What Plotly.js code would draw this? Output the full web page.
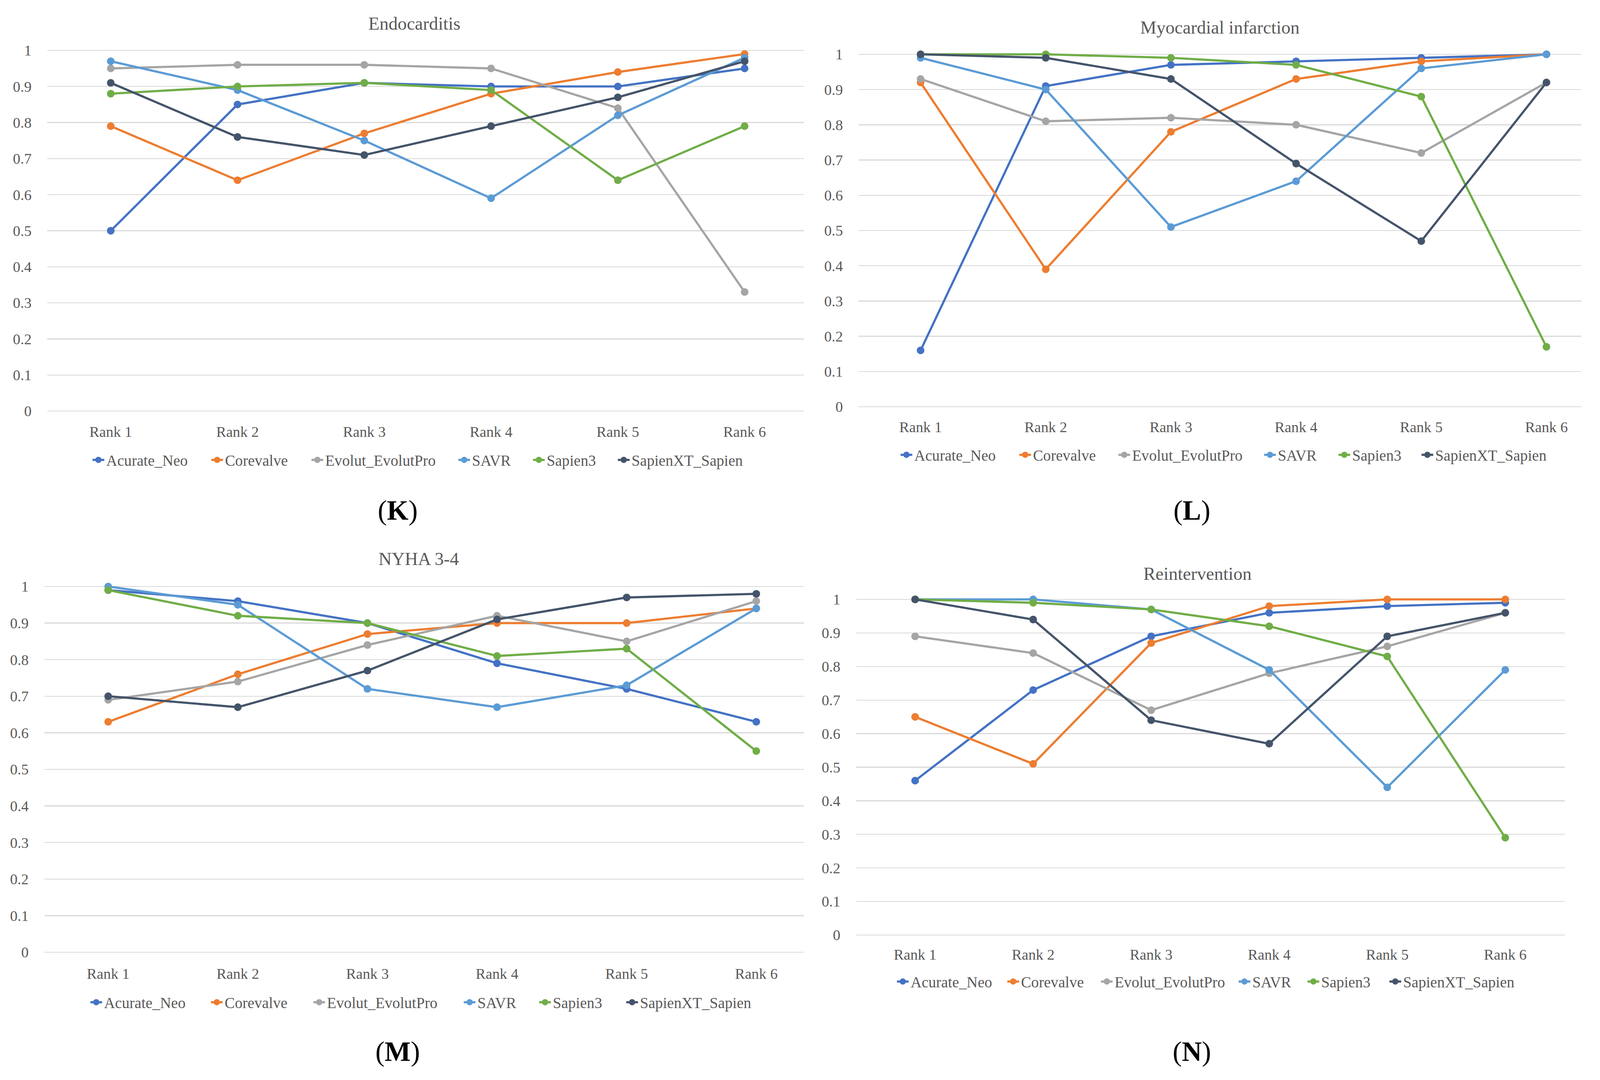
<!DOCTYPE html>
<html>
<head>
<meta charset="utf-8">
<script src="https://cdn.plot.ly/plotly-3.0.1.min.js"></script>
<style>
  html, body { margin: 0; padding: 0; background: #ffffff; overflow: hidden; }
  #chart { position: absolute; left: 0; top: 0; }
</style>
</head>
<body>
<div id="chart"></div>
<script>
// ---------------- DATA ----------------
const categories = ["Rank 1", "Rank 2", "Rank 3", "Rank 4", "Rank 5", "Rank 6"];
const seriesNames = ["Acurate_Neo", "Corevalve", "Evolut_EvolutPro", "SAVR", "Sapien3", "SapienXT_Sapien"];
const panelTitles = ["Endocarditis", "Myocardial infarction", "NYHA 3-4", "Reintervention"];
const panelLabels = ["K", "L", "M", "N"];
const yTickVals = [0, 0.1, 0.2, 0.3, 0.4, 0.5, 0.6, 0.7, 0.8, 0.9, 1];
const yTickText = ["0", "0.1", "0.2", "0.3", "0.4", "0.5", "0.6", "0.7", "0.8", "0.9", "1"];

// (K) Endocarditis
const endoAcurateNeo = [0.50, 0.85, 0.91, 0.90, 0.90, 0.95];
const endoCorevalve  = [0.79, 0.64, 0.77, 0.88, 0.94, 0.99];
const endoEvolut     = [0.95, 0.96, 0.96, 0.95, 0.84, 0.33];
const endoSAVR       = [0.97, 0.89, 0.75, 0.59, 0.82, 0.98];
const endoSapien3    = [0.88, 0.90, 0.91, 0.89, 0.64, 0.79];
const endoSapienXT   = [0.91, 0.76, 0.71, 0.79, 0.87, 0.97];

// (L) Myocardial infarction
const miAcurateNeo = [0.16, 0.91, 0.97, 0.98, 0.99, 1.00];
const miCorevalve  = [0.92, 0.39, 0.78, 0.93, 0.98, 1.00];
const miEvolut     = [0.93, 0.81, 0.82, 0.80, 0.72, 0.92];
const miSAVR       = [0.99, 0.90, 0.51, 0.64, 0.96, 1.00];
const miSapien3    = [1.00, 1.00, 0.99, 0.97, 0.88, 0.17];
const miSapienXT   = [1.00, 0.99, 0.93, 0.69, 0.47, 0.92];

// (M) NYHA 3-4
const nyhaAcurateNeo = [0.99, 0.96, 0.90, 0.79, 0.72, 0.63];
const nyhaCorevalve  = [0.63, 0.76, 0.87, 0.90, 0.90, 0.94];
const nyhaEvolut     = [0.69, 0.74, 0.84, 0.92, 0.85, 0.96];
const nyhaSAVR       = [1.00, 0.95, 0.72, 0.67, 0.73, 0.94];
const nyhaSapien3    = [0.99, 0.92, 0.90, 0.81, 0.83, 0.55];
const nyhaSapienXT   = [0.70, 0.67, 0.77, 0.91, 0.97, 0.98];

// (N) Reintervention
const reAcurateNeo = [0.46, 0.73, 0.89, 0.96, 0.98, 0.99];
const reCorevalve  = [0.65, 0.51, 0.87, 0.98, 1.00, 1.00];
const reEvolut     = [0.89, 0.84, 0.67, 0.78, 0.86, 0.96];
const reSAVR       = [1.00, 1.00, 0.97, 0.79, 0.44, 0.79];
const reSapien3    = [1.00, 0.99, 0.97, 0.92, 0.83, 0.29];
const reSapienXT   = [1.00, 0.94, 0.64, 0.57, 0.89, 0.96];

const panelData = [
  [endoAcurateNeo, endoCorevalve, endoEvolut, endoSAVR, endoSapien3, endoSapienXT],
  [miAcurateNeo, miCorevalve, miEvolut, miSAVR, miSapien3, miSapienXT],
  [nyhaAcurateNeo, nyhaCorevalve, nyhaEvolut, nyhaSAVR, nyhaSapien3, nyhaSapienXT],
  [reAcurateNeo, reCorevalve, reEvolut, reSAVR, reSapien3, reSapienXT]
];

// ---------------- STYLE / LAYOUT ----------------
const colors = ["#4472C4", "#ED7D31", "#A5A5A5", "#5B9BD5", "#70AD47", "#44546A"];
const W = 4392, H = 2764;
const vw = window.innerWidth || document.documentElement.clientWidth || W;
const vh = window.innerHeight || document.documentElement.clientHeight || H;
const Sx = vw / W, Sy = vh / H;
const S = Sx;
const FONT = "Liberation Serif, Times New Roman, serif";
const TXT = "#595959";
const px = x => x / W;
const py = y => 1 - y / H;

// reference-pixel geometry of each panel
const geom = [
  {left: 130,  right: 2207, c1: 304,  c6: 2044, y0: 1052, y1: 129,  title: [1138, 60],   label: [1092, 1307], legY: 1177, std: 19,
   leg: [268, 594, 869, 1272, 1477, 1710]},
  {left: 2357, right: 4340, c1: 2527, c6: 4245, y0: 1041, y1: 139,  title: [3349, 70],   label: [3272, 1307], legY: 1164, std: 18,
   leg: [2486, 2812, 3084, 3484, 3688, 3916]},
  {left: 122,  right: 2207, c1: 297,  c6: 2076, y0: 2437, y1: 1501, title: [1149, 1430], label: [1092, 2691], legY: 2565, std: 21,
   leg: [262, 593, 874, 1287, 1494, 1733]},
  {left: 2350, right: 4295, c1: 2512, c6: 4132, y0: 2393, y1: 1534, title: [3287, 1468], label: [3272, 2691], legY: 2512, std: 16,
   leg: [2476, 2779, 3036, 3414, 3603, 3828]}
];

const traces = [];
const layout = {
  width: vw, height: vh,
  margin: {l: 0, r: 0, t: 0, b: 0, pad: 0},
  paper_bgcolor: "#ffffff",
  plot_bgcolor: "#ffffff",
  font: {family: FONT, color: TXT, size: 41 * S},
  showlegend: true,
  annotations: []
};

const YMAX = 1.05;
const LEG_OFF = 18; // css px from legend left edge to symbol centre
geom.forEach((g, p) => {
  const n = p + 1;
  const xa = "xaxis" + (n === 1 ? "" : n);
  const ya = "yaxis" + (n === 1 ? "" : n);
  const xr = "x" + (n === 1 ? "" : n);
  const yr = "y" + (n === 1 ? "" : n);
  const sp = (g.c6 - g.c1) / 5;
  const xStart = -(g.c1 - g.left) / sp;
  const xEnd = 5 + (g.right - g.c6) / sp;
  const topPx = g.y1 - (YMAX - 1) * (g.y0 - g.y1);

  layout[xa] = {
    domain: [px(g.left), px(g.right)],
    anchor: yr,
    type: "category",
    categoryorder: "array",
    categoryarray: categories,
    range: [xStart, xEnd],
    showgrid: false,
    zeroline: false,
    showline: false,
    ticks: "outside",
    ticklen: g.std * Sy,
    tickcolor: "rgba(0,0,0,0)",
    tickfont: {family: FONT, size: 41 * S, color: TXT},
    fixedrange: true
  };
  layout[ya] = {
    domain: [py(g.y0), py(topPx)],
    anchor: xr,
    range: [0, YMAX],
    tickmode: "array",
    tickvals: yTickVals,
    ticktext: yTickText,
    showgrid: true,
    gridcolor: "#D9D9D9",
    gridwidth: 2.5 * S,
    zeroline: true,
    zerolinecolor: "#D9D9D9",
    zerolinewidth: 2.5 * S,
    showline: false,
    ticks: "outside",
    ticklen: 34 * Sx,
    tickcolor: "rgba(0,0,0,0)",
    tickfont: {family: FONT, size: 41 * S, color: TXT},
    fixedrange: true
  };

  layout.annotations.push({
    text: panelTitles[p], xref: "paper", yref: "paper",
    x: px(g.title[0]), y: py(g.title[1]), xanchor: "center", yanchor: "middle",
    showarrow: false, font: {family: FONT, size: 50 * S, color: TXT}
  });
  layout.annotations.push({
    text: "(<b>" + panelLabels[p] + "</b>)", xref: "paper", yref: "paper",
    x: px(g.label[0]), y: py(g.label[1]), xanchor: "center", yanchor: "middle",
    showarrow: false, font: {family: FONT, size: 76 * S, color: "#000000"}
  });

  panelData[p].forEach((vals, s) => {
    const li = p * 6 + s + 1;
    const lg = "legend" + (li === 1 ? "" : li);
    layout[lg] = {
      orientation: "h",
      x: px(g.leg[s]) - LEG_OFF / vw, y: py(g.legY),
      xanchor: "left", yanchor: "middle",
      xref: "paper", yref: "paper",
      font: {family: FONT, size: 42 * S, color: TXT},
      bgcolor: "rgba(0,0,0,0)",
      borderwidth: 0
    };
    traces.push({
      type: "scatter",
      mode: "lines+markers",
      name: seriesNames[s],
      x: categories,
      y: vals,
      xaxis: xr, yaxis: yr,
      legend: lg,
      showlegend: true,
      line: {color: colors[s], width: 6 * S},
      marker: {color: colors[s], size: 21 * S, symbol: "circle"},
      cliponaxis: false,
      hoverinfo: "skip"
    });
  });
});

Plotly.newPlot("chart", traces, layout, {staticPlot: true, displayModeBar: false});
</script>
</body>
</html>
